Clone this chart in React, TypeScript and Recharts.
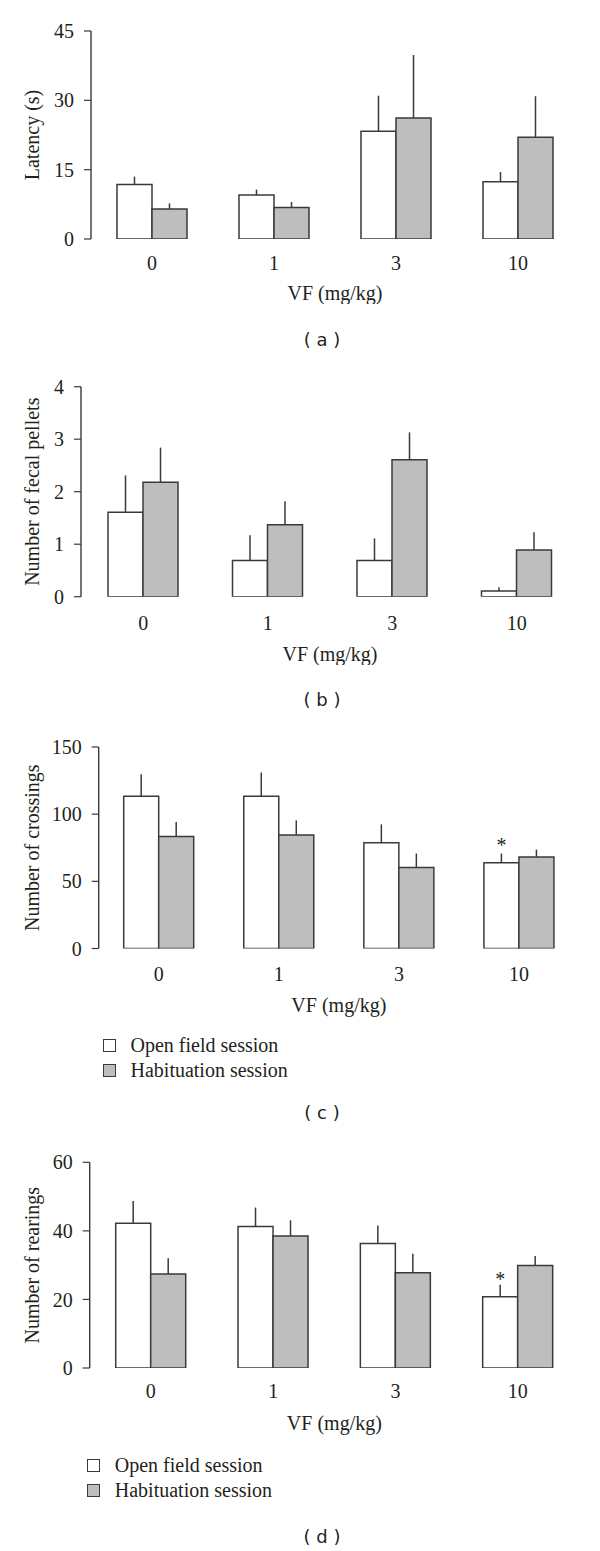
import React from 'react';
import { BarChart, Bar, XAxis, YAxis, ErrorBar, LabelList, Legend } from 'recharts';

const doses = ['0', '1', '3', '10'];
const edgeTicks = [0, 1, 2, 3, 4];

// (a) latency, s
const latencyOpen = [11.8, 9.5, 23.3, 12.4];
const latencyOpenSem = [1.7, 1.2, 7.7, 2.1];
const latencyHab = [6.5, 6.8, 26.2, 22.0];
const latencyHabSem = [1.2, 1.2, 13.6, 8.9];

// (b) fecal pellets
const pelletsOpen = [1.61, 0.69, 0.69, 0.11];
const pelletsOpenSem = [0.7, 0.48, 0.42, 0.07];
const pelletsHab = [2.18, 1.37, 2.61, 0.89];
const pelletsHabSem = [0.66, 0.45, 0.52, 0.34];

// (c) crossings
const crossOpen = [113.4, 113.4, 78.8, 63.8];
const crossOpenSem = [16.3, 17.6, 13.6, 6.9];
const crossHab = [83.3, 84.5, 60.3, 68.2];
const crossHabSem = [10.8, 10.9, 10.4, 5.4];

// (d) rearings
const rearOpen = [42.2, 41.3, 36.3, 20.8];
const rearOpenSem = [6.5, 5.5, 5.3, 3.5];
const rearHab = [27.4, 38.5, 27.8, 29.9];
const rearHabSem = [4.6, 4.6, 5.5, 2.8];

const noMarks = ['', '', '', ''];
const sigMarks = ['', '', '', '*'];

const INK = '#3a3a3a';
const TEXT = '#231f20';
const GREY = '#bebebe';
const SERIF = '"Liberation Serif", "DejaVu Serif", serif';

function rows(open: number[], openSem: number[], hab: number[], habSem: number[], marks: string[]) {
  return doses.map((d, i) => ({
    dose: d,
    open: open[i],
    openErr: [0, openSem[i]],
    hab: hab[i],
    habErr: [0, habSem[i]],
    mark: marks[i],
  }));
}

function LegendBox(props: any) {
  // open field first, like the figure
  const items = [...(props.payload || [])].sort((a: any, b: any) =>
    (a.dataKey === 'open' ? 0 : 1) - (b.dataKey === 'open' ? 0 : 1)
  );
  return (
    <div style={{ fontFamily: SERIF, fontSize: 20, color: TEXT }}>
      {items.map((it: any) => (
        <div key={it.value} style={{ display: 'flex', alignItems: 'center', height: 25 }}>
          <span
            style={{
              display: 'inline-block',
              width: 11,
              height: 11,
              border: `1.5px solid ${INK}`,
              background: it.dataKey === 'open' ? '#fff' : GREY,
              marginRight: 15,
            }}
          />
          <span>{it.value}</span>
        </div>
      ))}
    </div>
  );
}

type PanelProps = {
  data: any[];
  top: number;
  plotTop: number;
  plotBottom: number;
  plotLeft: number;
  xTickMargin: number;
  xAxisHeight: number;
  yDomain: number[];
  yTicks: number[];
  yLabel: string;
  caption: string;
  captionY: number;
  legendTop?: number;
  legendLeft?: number;
};

function Panel(p: PanelProps) {
  const plotH = p.plotBottom - p.top;
  const chartH = p.legendTop ? 400 : plotH + p.xAxisHeight + 4;
  const tickStyle = { fill: TEXT, fontSize: 20, fontFamily: SERIF };
  return (
    <>
      <div style={{ position: 'absolute', left: 0, top: p.top }}>
        <BarChart
          width={600}
          height={chartH}
          data={p.data}
          barGap={0}
          margin={{ top: p.plotTop - p.top, right: 21, left: 0, bottom: chartH - plotH - p.xAxisHeight }}
        >
          <XAxis
            xAxisId="edge"
            type="number"
            domain={[0, 4]}
            ticks={edgeTicks}
            allowDataOverflow
            height={0}
            tick={false}
            tickSize={6}
            axisLine={{ stroke: INK, strokeWidth: 1.4 }}
            tickLine={{ stroke: INK, strokeWidth: 1.2 }}
          />
          <XAxis
            dataKey="dose"
            interval={0}
            height={p.xAxisHeight}
            axisLine={false}
            tickLine={false}
            tickSize={6}
            tickMargin={p.xTickMargin}
            tick={tickStyle}
            label={{ value: 'VF (mg/kg)', position: 'insideBottom', offset: 0, fill: TEXT, fontSize: 20, fontFamily: SERIF }}
          />
          <YAxis
            domain={p.yDomain}
            ticks={p.yTicks}
            allowDataOverflow
            width={p.plotLeft}
            tickSize={7}
            tickMargin={10}
            tick={tickStyle}
            axisLine={{ stroke: INK, strokeWidth: 1.4 }}
            tickLine={{ stroke: INK, strokeWidth: 1.2 }}
            label={{
              value: p.yLabel,
              angle: -90,
              position: 'center',
              dx: 32 - p.plotLeft / 2,
              fill: TEXT,
              fontSize: 20,
              fontFamily: SERIF,
            }}
          />
          {p.legendTop !== undefined && (
            <Legend
              layout="vertical"
              align="center"
              verticalAlign="middle"
              wrapperStyle={{ left: p.legendLeft, top: p.legendTop - p.top, width: 300 }}
              content={LegendBox}
            />
          )}
          <Bar
            dataKey="open"
            name="Open field session"
            fill="#ffffff"
            stroke={INK}
            strokeWidth={1.5}
            barSize={35}
            isAnimationActive={false}
          >
            <ErrorBar dataKey="openErr" direction="y" width={0} stroke={INK} strokeWidth={1.5} isAnimationActive={false} />
            <LabelList dataKey="mark" position="top" offset={10.5} fill={TEXT} fontSize={20} fontFamily={SERIF} />
          </Bar>
          <Bar
            dataKey="hab"
            name="Habituation session"
            fill={GREY}
            stroke={INK}
            strokeWidth={1.5}
            barSize={35}
            isAnimationActive={false}
          >
            <ErrorBar dataKey="habErr" direction="y" width={0} stroke={INK} strokeWidth={1.5} isAnimationActive={false} />
          </Bar>
        </BarChart>
      </div>
      <div
        style={{
          position: 'absolute',
          left: 222,
          width: 200,
          top: p.captionY - 12,
          height: 24,
          lineHeight: '24px',
          textAlign: 'center',
          fontFamily: '"DejaVu Sans", sans-serif',
          fontSize: 18,
          color: TEXT,
          whiteSpace: 'pre',
        }}
      >
        {p.caption}
      </div>
    </>
  );
}

export default function App() {
  return (
    <div style={{ position: 'absolute', left: 0, top: 0, width: 600, height: 1551, background: '#fff' }}>
      <Panel
        data={rows(latencyOpen, latencyOpenSem, latencyHab, latencyHabSem, noMarks)}
        top={0}
        plotTop={31}
        plotBottom={239}
        plotLeft={91}
        xTickMargin={10.7}
        xAxisHeight={61}
        yDomain={[0, 45]}
        yTicks={[0, 15, 30, 45]}
        yLabel="Latency (s)"
        caption="( a )"
        captionY={340}
      />
      <Panel
        data={rows(pelletsOpen, pelletsOpenSem, pelletsHab, pelletsHabSem, noMarks)}
        top={360}
        plotTop={386.7}
        plotBottom={596.7}
        plotLeft={81}
        xTickMargin={12.7}
        xAxisHeight={64.3}
        yDomain={[0, 4]}
        yTicks={[0, 1, 2, 3, 4]}
        yLabel="Number of fecal pellets"
        caption="( b )"
        captionY={700}
      />
      <Panel
        data={rows(crossOpen, crossOpenSem, crossHab, crossHabSem, sigMarks)}
        top={720}
        plotTop={747}
        plotBottom={948.5}
        plotLeft={98.7}
        xTickMargin={11.9}
        xAxisHeight={63.5}
        yDomain={[0, 150]}
        yTicks={[0, 50, 100, 150]}
        yLabel="Number of crossings"
        caption="( c )"
        captionY={1113}
        legendTop={1032.5}
        legendLeft={102.5}
      />
      <Panel
        data={rows(rearOpen, rearOpenSem, rearHab, rearHabSem, sigMarks)}
        top={1140}
        plotTop={1162.3}
        plotBottom={1368}
        plotLeft={89.7}
        xTickMargin={10.1}
        xAxisHeight={62}
        yDomain={[0, 60]}
        yTicks={[0, 20, 40, 60]}
        yLabel="Number of rearings"
        caption="( d )"
        captionY={1537}
        legendTop={1452.5}
        legendLeft={86.8}
      />
    </div>
  );
}
